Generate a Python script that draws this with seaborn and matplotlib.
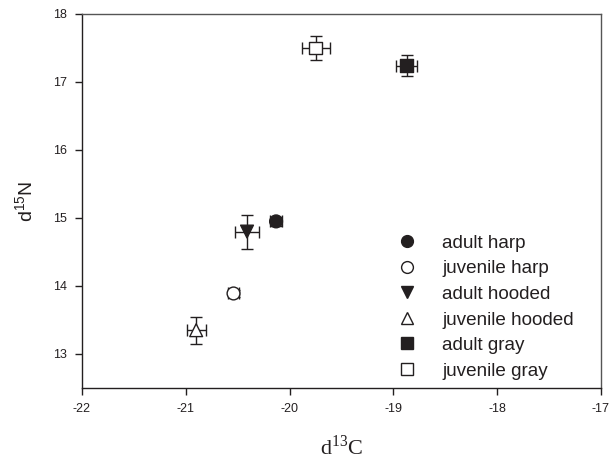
import matplotlib
matplotlib.use("Agg")
import matplotlib.pyplot as plt
import seaborn as sns
import pandas as pd
from matplotlib.lines import Line2D

groups = ["adult harp", "juvenile harp", "adult hooded", "juvenile hooded", "adult gray", "juvenile gray"]
d13C = [-20.13, -20.54, -20.41, -20.90, -18.87, -19.75]
d15N = [14.95, 13.89, 14.80, 13.35, 17.24, 17.50]
d13C_err = [0.06, 0.05, 0.12, 0.09, 0.10, 0.135]
d15N_err = [0.07, 0.05, 0.25, 0.20, 0.15, 0.18]
x_ticks = [-22, -21, -20, -19, -18, -17]
y_ticks = [13, 14, 15, 16, 17, 18]

markers = {"adult harp": "o", "juvenile harp": "o", "adult hooded": "v",
           "juvenile hooded": "^", "adult gray": "s", "juvenile gray": "s"}
faces = {"adult harp": "#231f20", "juvenile harp": "white", "adult hooded": "#231f20",
         "juvenile hooded": "white", "adult gray": "#231f20", "juvenile gray": "white"}

df = pd.DataFrame({"group": groups, "x": d13C, "y": d15N, "xe": d13C_err, "ye": d15N_err})

sns.set_style("white")
plt.rcParams["font.family"] = ["Liberation Sans", "DejaVu Sans"]
plt.rcParams["mathtext.fontset"] = "custom"
plt.rcParams["mathtext.rm"] = "Liberation Serif"
plt.rcParams["mathtext.sf"] = "Liberation Sans"

fig = plt.figure(figsize=(6.1, 4.59), dpi=100)
ax = fig.add_axes([0.1344, 0.1547, 0.8508, 0.8148])

for _, r in df.iterrows():
    ax.errorbar(r.x, r.y, xerr=r.xe, yerr=r.ye, fmt="none", ecolor="#231f20",
                elinewidth=1.0, capsize=4.5, capthick=1.0, zorder=2)

sns.scatterplot(data=df, x="x", y="y", style="group", markers=markers, s=85,
                hue="group", palette=faces, edgecolor="#231f20", linewidth=1.0,
                legend=False, ax=ax, zorder=3)

ax.set_xlim(-22, -17)
ax.set_ylim(12.5, 18)
ax.set_xticks(x_ticks)
ax.set_yticks(y_ticks)
ax.set_xticklabels([str(t) for t in x_ticks], fontsize=9)
ax.set_yticklabels([str(t) for t in y_ticks], fontsize=9)
ax.tick_params(axis="both", direction="out", length=5, width=1, color="#231f20",
               bottom=True, left=True, top=False, right=False, pad=6, labelcolor="#231f20")

for s in ["left", "bottom"]:
    ax.spines[s].set_color("#231f20")
    ax.spines[s].set_linewidth(1.0)
for s in ["top", "right"]:
    ax.spines[s].set_color("#555555")
    ax.spines[s].set_linewidth(1.0)

ax.set_xlabel(r"d$^{13}$C", fontsize=16, family="Liberation Serif", labelpad=14, color="#231f20")
ax.set_ylabel(r"d$^{\mathsf{15}}$N", fontsize=14, family="Liberation Sans", labelpad=11, color="#231f20")

handles = [Line2D([0], [0], marker=markers[g], color="none", markerfacecolor=faces[g],
                  markeredgecolor="#231f20", markersize=8.5, label=g) for g in groups]
leg = ax.legend(handles=handles, loc="upper left", bbox_to_anchor=(0.59, 0.43),
                borderaxespad=0, frameon=False, fontsize=13.6, handletextpad=1.25,
                labelspacing=0.44, handlelength=1.2)
for t in leg.get_texts():
    t.set_color("#231f20")

fig.savefig("out.png", dpi=100)
